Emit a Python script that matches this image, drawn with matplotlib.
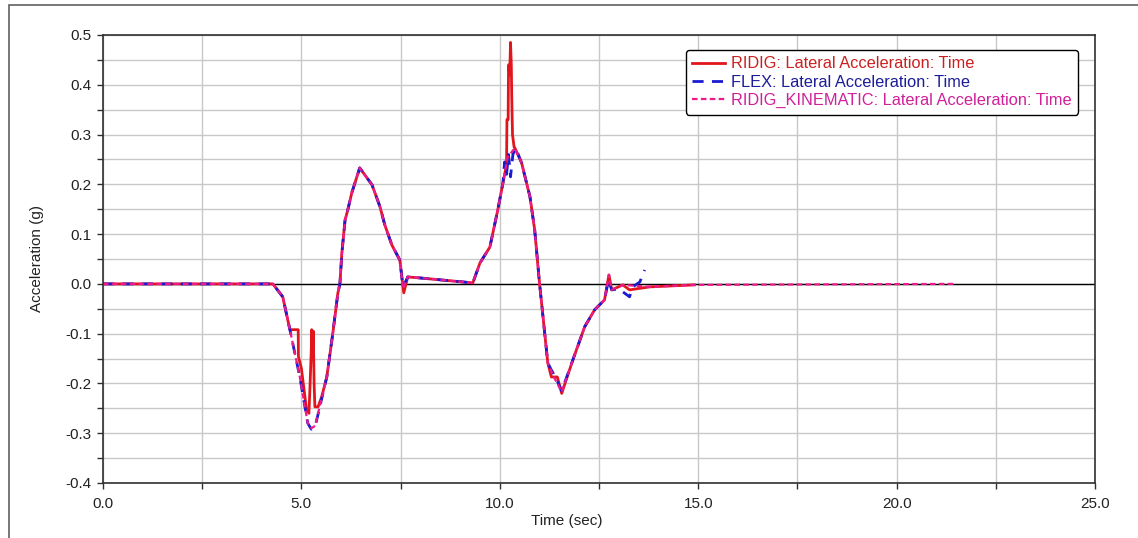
import matplotlib.pyplot as plt
from matplotlib.patches import Rectangle
from matplotlib.ticker import MultipleLocator, FormatStrFormatter

# time (sec) / lateral acceleration (g)
t_kin = [0.0, 4.28, 4.53, 4.71, 4.96, 5.16, 5.25, 5.35, 5.42, 5.64, 5.79, 5.92, 5.97,
         6.02, 6.10, 6.17, 6.27, 6.47, 6.78, 6.98, 7.10, 7.28, 7.48, 7.56, 7.68, 7.98,
         9.32, 9.50, 9.75, 9.95, 10.08, 10.20, 10.38, 10.55, 10.76, 10.88, 11.00, 11.13,
         11.21, 11.35, 11.56, 11.84, 12.14, 12.39, 12.64, 12.75, 12.82, 13.10, 13.78,
         14.90, 21.45]
a_kin = [0.0, 0.0, -0.026, -0.092, -0.187, -0.280, -0.290, -0.285, -0.260, -0.187,
         -0.100, -0.018, 0.0, 0.062, 0.128, 0.149, 0.183, 0.233, 0.199, 0.155, 0.119,
         0.078, 0.048, -0.010, 0.014, 0.012, 0.002, 0.042, 0.074, 0.149, 0.203, 0.255,
         0.273, 0.243, 0.175, 0.108, 0.002, -0.098, -0.159, -0.185, -0.217, -0.153,
         -0.086, -0.052, -0.032, 0.018, -0.012, -0.002, -0.006, -0.002, 0.0]

t_rig = [0.0, 4.28, 4.53, 4.71, 4.92, 4.925, 5.00, 5.13, 5.19, 5.22, 5.25, 5.26, 5.28,
         5.30, 5.32, 5.34, 5.42, 5.51, 5.64, 5.79, 5.92, 5.97, 6.02, 6.10, 6.17, 6.27,
         6.47, 6.78, 6.98, 7.10, 7.28, 7.48, 7.58, 7.68, 7.98, 9.32, 9.50, 9.75, 9.95,
         10.08, 10.17, 10.18, 10.21, 10.22, 10.25, 10.27, 10.29, 10.30, 10.32, 10.36,
         10.38, 10.55, 10.76, 10.88, 11.00, 11.13, 11.21, 11.30, 11.45, 11.56, 11.84,
         12.14, 12.39, 12.64, 12.75, 12.82, 13.10, 13.27, 13.78, 14.90]
a_rig = [0.0, 0.0, -0.026, -0.092, -0.092, -0.146, -0.170, -0.253, -0.260, -0.200,
         -0.130, -0.092, -0.140, -0.095, -0.200, -0.247, -0.247, -0.227, -0.187, -0.100,
         -0.018, 0.0, 0.062, 0.128, 0.149, 0.183, 0.233, 0.199, 0.155, 0.119, 0.078,
         0.048, -0.018, 0.014, 0.012, 0.002, 0.042, 0.074, 0.149, 0.203, 0.240, 0.330,
         0.330, 0.440, 0.420, 0.485, 0.440, 0.380, 0.300, 0.275, 0.273, 0.243, 0.175,
         0.108, 0.002, -0.098, -0.159, -0.187, -0.187, -0.220, -0.153, -0.086, -0.052,
         -0.032, 0.018, -0.012, -0.002, -0.012, -0.006, -0.002]

t_flex = [0.0, 4.28, 4.53, 4.71, 4.96, 5.16, 5.25, 5.35, 5.42, 5.64, 5.79, 5.92, 5.97,
          6.02, 6.10, 6.17, 6.27, 6.47, 6.78, 6.98, 7.10, 7.28, 7.48, 7.56, 7.68, 7.98,
          9.32, 9.50, 9.75, 9.95, 10.08, 10.12, 10.17, 10.22, 10.27, 10.33, 10.40, 10.55,
          10.76, 10.88, 11.00, 11.13, 11.21, 11.30, 11.40, 11.56, 11.84, 12.14, 12.39,
          12.64, 12.74, 12.82, 13.00, 13.27, 13.35, 13.53, 13.65]
a_flex = [0.0, 0.0, -0.026, -0.092, -0.187, -0.280, -0.292, -0.285, -0.262, -0.187,
          -0.100, -0.018, 0.0, 0.062, 0.128, 0.149, 0.183, 0.233, 0.199, 0.155, 0.119,
          0.078, 0.048, -0.006, 0.014, 0.012, 0.002, 0.042, 0.074, 0.149, 0.203, 0.245,
          0.220, 0.260, 0.215, 0.260, 0.273, 0.243, 0.175, 0.108, 0.002, -0.098,
          -0.159, -0.173, -0.187, -0.215, -0.153, -0.086, -0.052, -0.032, 0.008, -0.012,
          -0.010, -0.026, -0.006, 0.004, 0.028]

fig = plt.figure(figsize=(11.38, 5.38), dpi=100)
plt.rcParams['font.family'] = ['Liberation Sans', 'DejaVu Sans']

# outer frame around the whole plot window
fig.patches.append(Rectangle((9 / 1138, -0.1), 1.2, 1 - 5 / 538 + 0.1,
                             transform=fig.transFigure, fill=False,
                             edgecolor='#606060', linewidth=1.2))

ax = fig.add_axes([103 / 1138, 1 - 483 / 538, 992 / 1138, 448 / 538])

red = '#e0161c'
blue = '#1b1bd0'
pink = '#ee1a8c'

ax.plot(t_rig, a_rig, color=red, lw=2.0, label='RIDIG: Lateral Acceleration: Time')
ax.plot(t_flex, a_flex, color=blue, lw=2.0, ls=(0, (4, 3)), label='FLEX: Lateral Acceleration: Time')
ax.plot(t_kin, a_kin, color=pink, lw=1.6, ls=(0, (2.5, 1.5)), label='RIDIG_KINEMATIC: Lateral Acceleration: Time')

ax.axhline(0, color='black', lw=1.0, zorder=1)

ax.set_xlim(0, 25)
ax.set_ylim(-0.4, 0.5)
ax.xaxis.set_major_locator(MultipleLocator(5))
ax.xaxis.set_minor_locator(MultipleLocator(2.5))
ax.yaxis.set_major_locator(MultipleLocator(0.1))
ax.yaxis.set_minor_locator(MultipleLocator(0.05))
ax.xaxis.set_major_formatter(FormatStrFormatter('%.1f'))
ax.yaxis.set_major_formatter(FormatStrFormatter('%.1f'))
ax.grid(which='both', color='#c8c8c8', lw=1.0, zorder=0)
ax.set_axisbelow(True)
ax.tick_params(which='both', direction='out', length=4, width=1, color='#303030',
               labelsize=11, labelcolor='#222222')
ax.tick_params(axis='x', pad=6)
ax.tick_params(axis='y', pad=4)
for s in ax.spines.values():
    s.set_color('#303030')
    s.set_linewidth(1.2)

ax.set_xlabel('Time (sec)', fontsize=11, color='#222222')
ax.xaxis.set_label_coords(0.467, -0.069)
ax.set_ylabel('Acceleration (g)', fontsize=11, color='#222222')
ax.yaxis.set_label_coords(-0.0595, 0.5)

leg = ax.legend(loc='upper right', bbox_to_anchor=(0.983, 0.967), fontsize=11.8,
                frameon=True, fancybox=True, edgecolor='black', framealpha=1,
                handlelength=2.0, handletextpad=0.35, borderpad=0.4, labelspacing=0.2,
                borderaxespad=0)
leg.get_frame().set_linewidth(1.0)
for txt, c in zip(leg.get_texts(), ['#cc2020', '#1c1c9a', '#d0209a']):
    txt.set_color(c)

plt.savefig('out.png', dpi=100)
